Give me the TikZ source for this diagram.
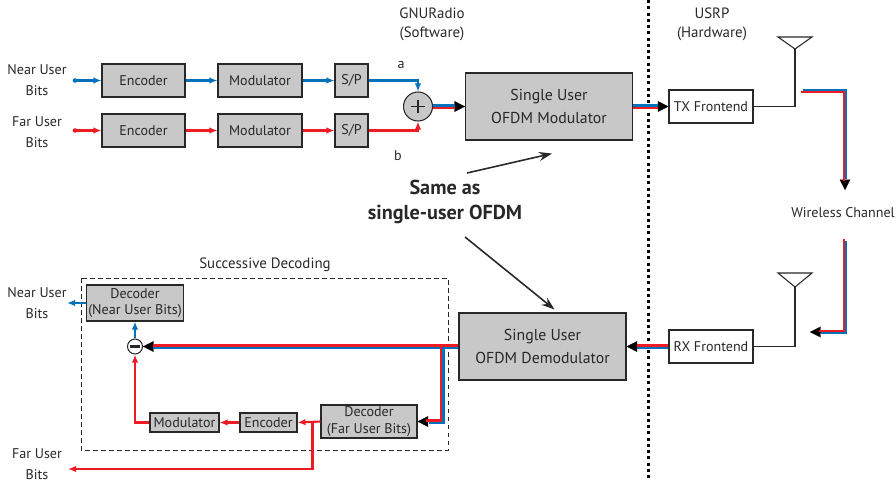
\documentclass[tikz,border=0pt]{standalone}
\usepackage{fontspec}
\setmainfont{PT Sans}
\usetikzlibrary{arrows.meta,calc,positioning}
\definecolor{cblue}{RGB}{0,114,188}
\definecolor{cred}{RGB}{237,28,36}
\definecolor{boxgray}{RGB}{200,200,200}
\definecolor{ink}{RGB}{40,40,40}

\begin{document}
\begin{tikzpicture}[x=0.2mm, y=-0.2mm, text=ink,
    font=\fontsize{8}{9.2}\selectfont,
    blk/.style 2 args={draw=ink, fill=boxgray, line width=0.6pt, inner sep=0pt,
               align=center, minimum width=#1, minimum height=#2},
    wblk/.style={draw=ink, fill=white, line width=0.6pt, inner sep=0pt,
               minimum width=16.8mm, minimum height=6.6mm},
    big/.style={font=\fontsize{9}{13}\selectfont},
    lbl/.style={align=center, inner sep=0pt, font=\fontsize{8}{12}\selectfont},
    sumop/.style={circle, draw=ink, line width=0.6pt, inner sep=0pt},
    bline/.style={cblue, line width=1.2pt},
    rline/.style={cred, line width=1.2pt},
    barr/.style={bline, -{Latex[length=1.6mm,width=1.3mm]}},
    rarr/.style={rline, -{Latex[length=1.6mm,width=1.3mm]}},
    dtip/.style={black, line width=0.1pt, -{Triangle[length=2.1mm,width=2.1mm]}},
    ptr/.style={ink, line width=0.9pt, -{Stealth[length=2.6mm,width=1.8mm]}},
    wire/.style={ink, line width=0.6pt}]

  \useasboundingbox (0,0) rectangle (896,481);

  %% separator software / hardware
  \draw[black, line width=0.6mm, dash pattern=on 0.6mm off 0.65mm] (648,0) -- (648,481);
  \node[lbl, font=\fontsize{8.5}{10.8}\selectfont] (lgnu)  at (432,24.5) {GNURadio\\(Software)};
  \node[lbl, font=\fontsize{8.5}{10.8}\selectfont] (lusrp) at (712,24.5) {USRP\\(Hardware)};

  %% Transmitter: two users
  \node[lbl] (lnear) at (37,80.5)  {Near User\\Bits};
  \node[lbl] (lfar)  at (37,132.5) {Far User\\Bits};
  \coordinate (nearin) at (75,80.5);
  \coordinate (farin)  at (75,130.5);

  \node[blk={16.6mm}{6.6mm}] (enc1) at (143.5,80.5)  {Encoder};
  \node[blk={16.8mm}{6.6mm}] (mod1) at (260,80.5)    {Modulator};
  \node[blk={6.6mm}{6.6mm}]  (sp1)  at (351.5,80.5)  {S/P};
  \node[blk={16.6mm}{6.6mm}] (enc2) at (143.5,130.5) {Encoder};
  \node[blk={16.8mm}{6.6mm}] (mod2) at (260,130.5)   {Modulator};
  \node[blk={6.6mm}{6.6mm}]  (sp2)  at (351.5,130.5) {S/P};

  \node[sumop, fill=boxgray, minimum size=5.8mm,
        path picture={\draw[ink, line width=0.6pt]
          (path picture bounding box.center) +(-1.35mm,0) -- +(1.35mm,0)
          (path picture bounding box.center) +(0,-1.35mm) -- +(0,1.35mm);}]
        (plus) at (418,106.5) {};
  \node (la) at (401,65)  {a};
  \node (lb) at (398,156) {b};

  \fill[cblue] (nearin) circle (1.3pt);
  \fill[cred]  (farin)  circle (1.3pt);
  \draw[barr] (nearin) -- (enc1);
  \draw[barr] (enc1) -- (mod1);
  \draw[barr] (mod1) -- (sp1);
  \draw[barr] (sp1.east) -| (plus.north);
  \draw[rarr] (farin) -- (enc2);
  \draw[rarr] (enc2) -- (mod2);
  \draw[rarr] (mod2) -- (sp2);
  \draw[rarr] (sp2.east) -| (plus.south);

  \node[blk={33.4mm}{13.4mm}, big] (ofdmmod) at (549,106.5) {Single User\\OFDM Modulator};
  \node[wblk] (tx) at (711,106.5) {TX Frontend};

  \draw[dtip] (plus.east) -- (ofdmmod.west);
  \draw[bline, shorten >=2mm, transform canvas={yshift=0.6pt}]  (plus.east) -- (ofdmmod.west);
  \draw[rline, shorten >=2mm, transform canvas={yshift=-0.6pt}] (plus.east) -- (ofdmmod.west);
  \draw[dtip] (ofdmmod.east) -- (tx.west);
  \draw[bline, shorten >=2mm, transform canvas={yshift=0.6pt}]  (ofdmmod.east) -- (tx.west);
  \draw[rline, shorten >=2mm, transform canvas={yshift=-0.6pt}] (ofdmmod.east) -- (tx.west);

  %% TX antenna
  \coordinate (antt) at (795,49);
  \draw[wire] (778,37) -- (812,37) -- (antt) -- cycle;
  \draw[wire] (tx.east) -| (antt);

  %% Wireless channel
  \node (lwc) at (843,213) {Wireless Channel};
  \coordinate (w1) at (802,91);
  \coordinate (w2) at (845,190);
  \coordinate (w3) at (845,240);
  \coordinate (w4) at (810,332);
  \draw[dtip] ($(w2)+(0,-10)$) -- (w2);
  \draw[bline, shorten >=2mm, transform canvas={xshift=0.6pt,yshift=0.6pt}]   (w1) -| (w2);
  \draw[rline, shorten >=2mm, transform canvas={xshift=-0.6pt,yshift=-0.6pt}] (w1) -| (w2);
  \draw[dtip] ($(w4)+(10,0)$) -- (w4);
  \draw[bline, shorten >=2mm, transform canvas={xshift=0.6pt,yshift=-0.6pt}]  (w3) |- (w4);
  \draw[rline, shorten >=2mm, transform canvas={xshift=-0.6pt,yshift=0.6pt}]  (w3) |- (w4);

  %% Receiver
  \coordinate (antr) at (795,287);
  \draw[wire] (778,273) -- (812,273) -- (antr) -- cycle;
  \node[wblk] (rx) at (711,346.5) {RX Frontend};
  \draw[wire] (rx.east) -| (antr);

  \node[blk={33.4mm}{13.4mm}, big] (ofdmdemod) at (542.5,346.5) {Single User\\OFDM Demodulator};
  \draw[dtip] (rx.west) -- (ofdmdemod.east);
  \draw[rline, shorten >=2mm, transform canvas={yshift=0.6pt}]  (rx.west) -- (ofdmdemod.east);
  \draw[bline, shorten >=2mm, transform canvas={yshift=-0.6pt}] (rx.west) -- (ofdmdemod.east);

  %% Successive decoding
  \draw[ink, line width=0.5pt, dash pattern=on 0.9mm off 0.7mm] (81,278) rectangle (448,450);
  \node[font=\fontsize{8.5}{10}\selectfont] (lsucc) at (265,265) {Successive Decoding};

  \node[blk={19.4mm}{7.2mm}] (decnear) at (135,303)   {Decoder\\(Near User Bits)};
  \node[sumop, fill=white, minimum size=3mm,
        path picture={\draw[ink, line width=1.3pt]
          (path picture bounding box.center) +(-1.05mm,0) -- +(1.05mm,0);}]
        (minus) at (135,346.5) {};
  \node[blk={19.2mm}{6.6mm}] (decfar)  at (369,421.5) {Decoder\\(Far User Bits)};
  \node[blk={11.4mm}{3.8mm}] (enc3)    at (268.5,422.5) {Encoder};
  \node[blk={13.8mm}{3.8mm}] (mod3)    at (184.5,422.5) {Modulator};

  \coordinate (br) at ($(ofdmdemod.west)+(-16,0)$);
  \draw[dtip] (ofdmdemod.west) -- (minus.east);
  \draw[rline, shorten >=2mm, transform canvas={yshift=0.6pt}]  (ofdmdemod.west) -- (minus.east);
  \draw[bline, shorten >=2mm, transform canvas={yshift=-0.6pt}] (ofdmdemod.west) -- (minus.east);
  \draw[dtip] ($(decfar.east)+(10,0)$) -- (decfar.east);
  \draw[rline, shorten >=2mm, transform canvas={xshift=-0.6pt,yshift=0.6pt}] (br) |- (decfar.east);
  \draw[bline, shorten >=2mm, transform canvas={xshift=0.6pt,yshift=-0.6pt}] (br) |- (decfar.east);

  \draw[rarr] (decfar.west) -- (enc3.east);
  \draw[rarr] (enc3.west) -- (mod3.east);
  \draw[rarr] (mod3.west) -| (minus.south);
  \draw[barr] (minus.north) -- (decnear.south);

  \node[lbl] (lnear2) at (37,303)   {Near User\\Bits};
  \node[lbl] (lfar2)  at (37,464) {Far User\\Bits};
  \coordinate (nearout) at (67,303);
  \coordinate (farout)  at (68,469);
  \coordinate (brf) at ($(decfar.west)+(-8,0)$);
  \draw[barr] (decnear.west) -- (nearout);
  \draw[rarr] (brf) |- (farout);

  %% note
  \node[align=center, font=\fontsize{11.5}{14}\selectfont\bfseries] (same) at (445,202)
    {Same as\\single-user OFDM};
  \coordinate (s1) at (467,173);
  \coordinate (s2) at (465,237);
  \draw[ptr] (s1) -- ($(ofdmmod.south)+(3,13)$);
  \draw[ptr] (s2) -- ($(ofdmdemod.north)+(12,-3)$);
\end{tikzpicture}
\end{document}
